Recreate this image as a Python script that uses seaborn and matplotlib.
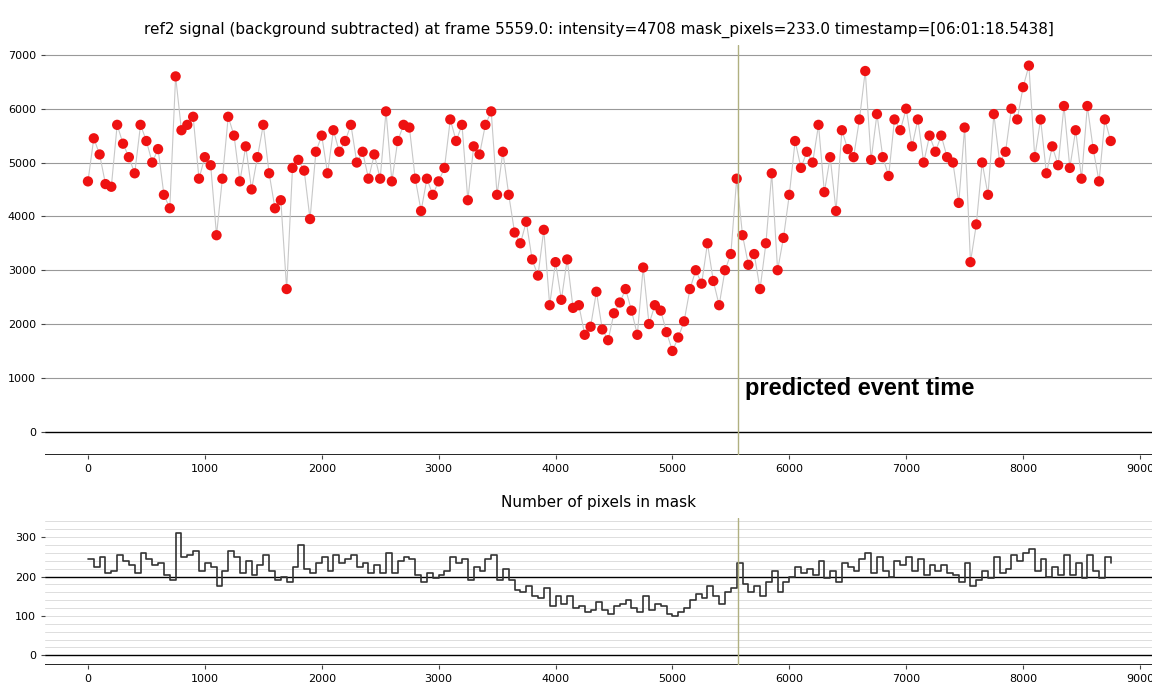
import matplotlib
matplotlib.use("Agg")
import matplotlib.pyplot as plt
import seaborn as sns
import pandas as pd

frames = list(range(0, 8800, 50))
intensity = [4650,5450,5150,4600,4550,5700,5350,5100,4800,5700,5400,5000,5250,4400,4150,6600,5600,5700,5850,4700,
             5100,4950,3650,4700,5850,5500,4650,5300,4500,5100,5700,4800,4150,4300,2650,4900,5050,4850,3950,5200,
             5500,4800,5600,5200,5400,5700,5000,5200,4700,5150,4700,5950,4650,5400,5700,5650,4700,4100,4700,4400,
             4650,4900,5800,5400,5700,4300,5300,5150,5700,5950,4400,5200,4400,3700,3500,3900,3200,2900,3750,2350,
             3150,2450,3200,2300,2350,1800,1950,2600,1900,1700,2200,2400,2650,2250,1800,3050,2000,2350,2250,1850,
             1500,1750,2050,2650,3000,2750,3500,2800,2350,3000,3300,4700,3650,3100,3300,2650,3500,4800,3000,3600,
             4400,5400,4900,5200,5000,5700,4450,5100,4100,5600,5250,5100,5800,6700,5050,5900,5100,4750,5800,5600,
             6000,5300,5800,5000,5500,5200,5500,5100,5000,4250,5650,3150,3850,5000,4400,5900,5000,5200,6000,5800,
             6400,6800,5100,5800,4800,5300,4950,6050,4900,5600,4700,6050,5250,4650,5800,5400]
mask_pixels = [245,225,250,210,215,255,240,230,210,260,245,230,235,205,190,310,250,255,265,215,
               235,225,175,215,265,250,210,240,205,230,255,215,190,200,185,225,280,220,210,235,
               250,215,255,235,245,255,225,235,210,230,210,260,210,240,250,245,205,185,210,195,
               205,215,250,235,245,190,225,215,245,255,190,220,190,165,160,175,150,145,170,125,
               150,130,150,120,125,110,115,135,115,105,125,130,140,120,110,150,115,130,125,105,
               100,110,120,140,155,145,175,150,130,160,170,235,180,160,175,150,185,215,160,185,
               200,225,210,220,205,240,195,215,185,235,225,215,245,260,210,250,215,200,240,230,
               250,215,245,205,230,215,230,210,205,185,235,175,190,215,195,250,210,220,255,240,
               260,270,215,245,200,225,205,255,205,235,195,255,215,195,250,235]
event_frame = 5559

df = pd.DataFrame({"frame": frames, "intensity": intensity, "mask": mask_pixels})

sns.set_style("white")
plt.rcParams["font.family"] = ["DejaVu Sans"]
plt.rcParams["text.color"] = "black"
plt.rcParams["xtick.color"] = "black"
plt.rcParams["ytick.color"] = "black"
fig = plt.figure(figsize=(11.52, 6.9), dpi=100)
ax1 = fig.add_axes([0.039, 0.341, 0.961, 0.594])
ax2 = fig.add_axes([0.039, 0.036, 0.961, 0.213])

for ax in (ax1, ax2):
    for s in ax.spines.values():
        s.set_visible(False)
    ax.tick_params(labelsize=8, length=3, left=True, bottom=True, color="#444")

# top
for y in range(1000, 8000, 1000):
    ax1.axhline(y, color="#999999", lw=0.8, zorder=0)
ax1.axhline(0, color="black", lw=1, zorder=0)
ax1.axhline(-427, color="black", lw=1.2, zorder=0)
sns.lineplot(data=df, x="frame", y="intensity", ax=ax1, color="#c8c8c8", lw=0.8, zorder=1)
sns.scatterplot(data=df, x="frame", y="intensity", ax=ax1, color="#ee1111", s=55, edgecolor="none", zorder=2)
ax1.axvline(event_frame, color="#b0b080", lw=1)
ax1.text(event_frame + 60, 800, "predicted event time", fontsize=17, fontweight="bold",
         family="Liberation Sans", va="center", color="black")
ax1.set_xlim(-368, 9103)
ax1.set_ylim(-427, 7186)
ax1.set_xticks(range(0, 10000, 1000))
ax1.set_yticks(range(0, 8000, 1000))
ax1.set_xlabel(""); ax1.set_ylabel("")
ax1.set_title("ref2 signal (background subtracted) at frame 5559.0: intensity=4708 mask_pixels=233.0 timestamp=[06:01:18.5438]",
              fontsize=11, pad=8)

# bottom
for y in range(20, 360, 20):
    ax2.axhline(y, color="#dddddd", lw=0.7, zorder=0)
ax2.axhline(200, color="black", lw=1, zorder=0)
ax2.axhline(0, color="black", lw=1, zorder=0)
ax2.axhline(-25, color="black", lw=1.2, zorder=0)
sns.lineplot(data=df, x="frame", y="mask", ax=ax2, color="#333333", lw=1.2, drawstyle="steps-post", zorder=2)
ax2.axvline(event_frame, color="#b0b080", lw=1)
ax2.set_xlim(-368, 9103)
ax2.set_ylim(-25, 348)
ax2.set_xticks(range(0, 10000, 1000))
ax2.set_yticks([0, 100, 200, 300])
ax2.set_xlabel(""); ax2.set_ylabel("")
ax2.set_title("Number of pixels in mask", fontsize=11, pad=8)

fig.savefig("out.png", dpi=100)
